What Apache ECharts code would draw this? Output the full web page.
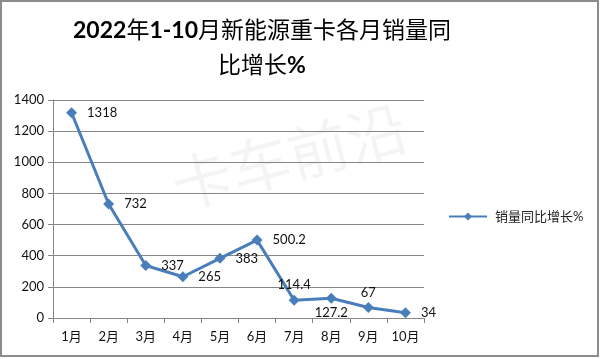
<!DOCTYPE html>
<html><head><meta charset="utf-8">
<script src="https://cdn.jsdelivr.net/npm/echarts@6/dist/echarts.min.js"></script>
<style>html,body{margin:0;padding:0;background:#fff}#c{width:600px;height:359px}</style>
</head><body><div id="c"></div>
<script>
const categories = ['1月','2月','3月','4月','5月','6月','7月','8月','9月','10月'];
const values = [1318, 732, 337, 265, 383, 500.2, 114.4, 127.2, 67, 34];
const labelPositions = ['right','right','right','right','right','right','top','bottom','top','right'];
const seriesName = '销量同比增长%';
const titleLine1 = '{b|2022}{n|年}{b|1-10}{n|月新能源重卡各月销量同}';
const titleLine2 = '{n|比增长}{b|%}';

const FONT = "Lato, 'Noto Sans CJK SC', sans-serif";
const COLOR = '#4a7ebb';
const chart = echarts.init(document.getElementById('c'));
chart.setOption({
  animation: false,
  backgroundColor: '#fff',
  title: {
    text: titleLine1 + '\n' + titleLine2,
    left: 257, top: 8, textAlign: 'center',
    textStyle: {
      fontFamily: FONT, fontSize: 23, lineHeight: 35, color: '#000',
      rich: {
        b: { fontFamily: FONT, fontWeight: 'bold', fontSize: 23, lineHeight: 35, color: '#000' },
        n: { fontFamily: FONT, fontWeight: 'normal', fontSize: 23, lineHeight: 35, color: '#000' }
      }
    }
  },
  graphic: [
    { type: 'rect', shape: { x: 1, y: 1, width: 597, height: 355 }, style: { fill: 'none', stroke: '#8c8c8c', lineWidth: 2 }, silent: true },
    { type: 'text', x: 290, y: 160, rotation: 0.26, style: { text: '卡车前沿', fontFamily: FONT, fontSize: 60, fill: 'rgba(0,0,0,0.045)', align: 'center', verticalAlign: 'middle' }, z: 0, silent: true }
  ],
  legend: {
    data: [seriesName], left: 443, top: 205, itemWidth: 38, itemHeight: 10, itemGap: 4,
    textStyle: { fontFamily: FONT, fontSize: 13, color: '#222', padding: [0, 0, 0, 3] }
  },
  grid: { left: 53, right: 176, top: 100, bottom: 41 },
  xAxis: {
    type: 'category', data: categories, boundaryGap: true,
    axisLine: { lineStyle: { color: '#868686', width: 1 } },
    axisTick: { show: true, length: 5, lineStyle: { color: '#868686' } },
    axisLabel: { fontFamily: FONT, fontSize: 13, color: '#111', margin: 12 }
  },
  yAxis: {
    type: 'value', min: 0, max: 1400, interval: 200,
    axisLine: { show: true, lineStyle: { color: '#868686' } },
    axisTick: { show: true, length: 5, lineStyle: { color: '#868686' } },
    splitLine: { lineStyle: { color: '#868686', width: 1 } },
    axisLabel: { fontFamily: FONT, fontSize: 13, color: '#111', margin: 9, formatter: v => String(v) }
  },
  series: [{
    name: seriesName, type: 'line',
    data: values.map((v, i) => ({ value: v, label: { position: labelPositions[i], distance: labelPositions[i] === 'right' ? 10 : 3 } })),
    symbol: 'diamond', symbolSize: 11,
    lineStyle: { color: COLOR, width: 3 },
    itemStyle: { color: COLOR },
    label: { show: true, fontFamily: FONT, fontSize: 13, color: '#111' },
    z: 5
  }]
});
</script></body></html>
